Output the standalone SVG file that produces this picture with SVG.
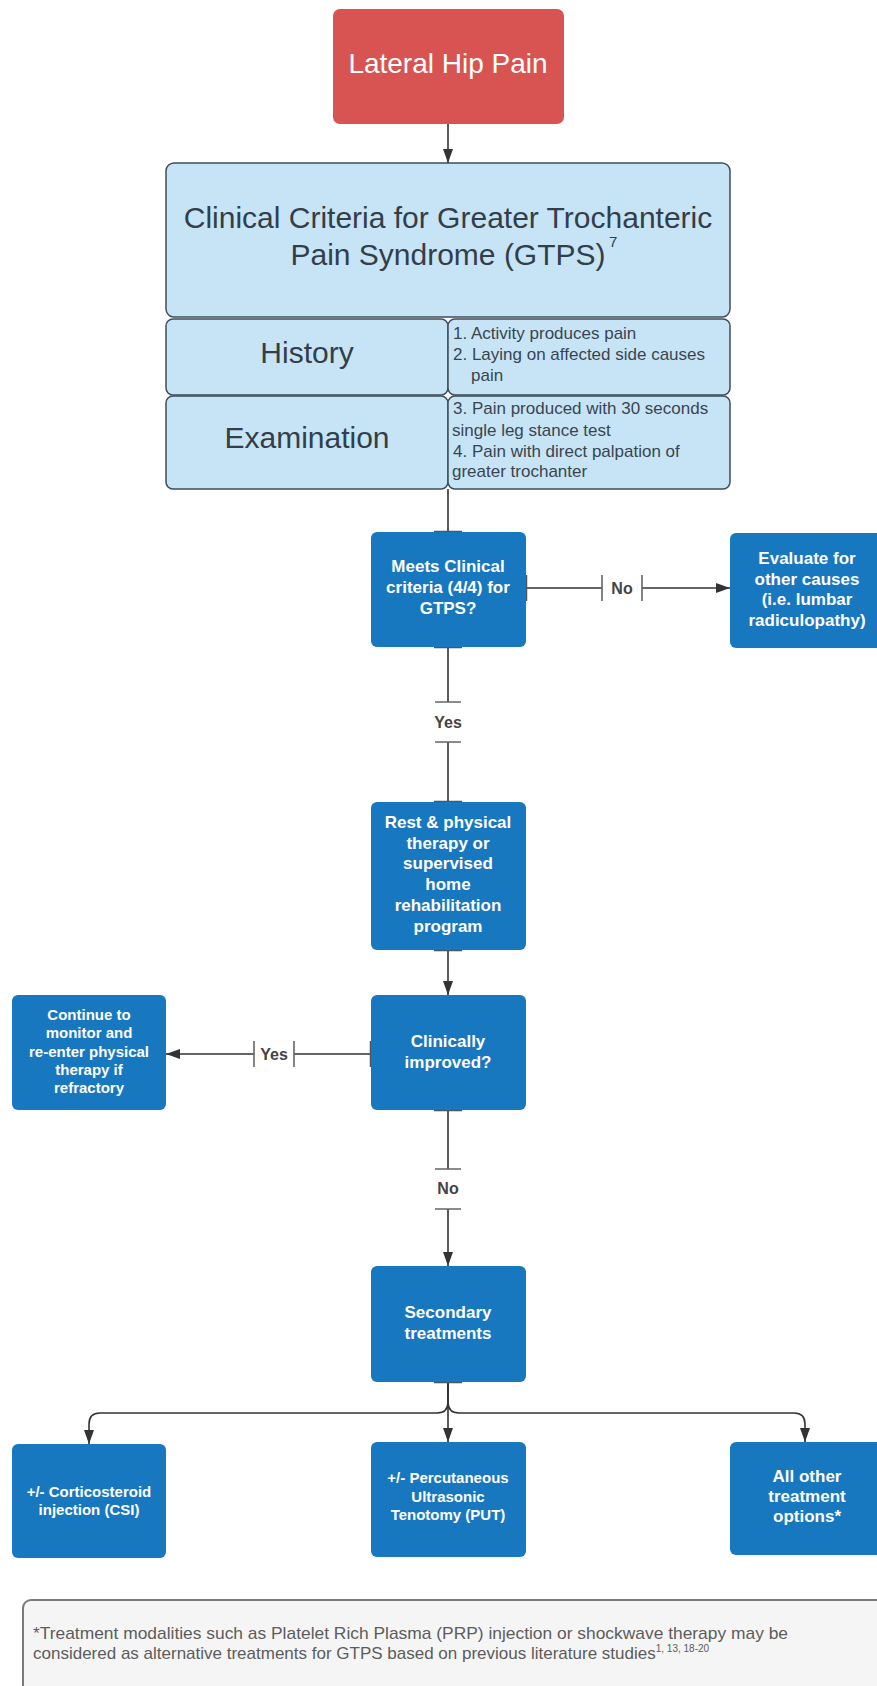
<svg xmlns="http://www.w3.org/2000/svg" width="877" height="1686" viewBox="0 0 877 1686">
<defs>
<marker id="arr" viewBox="0 0 14 10" markerWidth="14" markerHeight="10" refX="14" refY="5" orient="auto" markerUnits="userSpaceOnUse">
<path d="M0,0 L14,5 L0,10 z" fill="#333"/>
</marker>
<style>
.t{font-family:"Liberation Sans",Arial,sans-serif}
.red{fill:#d75452}
.blue{fill:#1777bf}
.lb{fill:#c6e4f6;stroke:#3f4d5a;stroke-width:1.5}
.wt{fill:#ffffff;font-weight:bold;font-size:17px;text-anchor:middle}
.ws{fill:#ffffff;font-weight:bold;font-size:15px;text-anchor:middle}
.dk{fill:#333e48}
.ls{fill:#3a4450;font-size:17px}
.ln{fill:none;stroke:#333;stroke-width:1.6}
.tk{fill:none;stroke:#666;stroke-width:1.6}
.bar{fill:none;stroke:#4a5663;stroke-width:2.5}
.lab{fill:#444;font-weight:bold;font-size:16px;text-anchor:middle}
</style>
</defs>
<rect width="877" height="1686" fill="#ffffff"/>

<g id="connectors">
<path class="ln" d="M448,124 V163" marker-end="url(#arr)"/>
<path class="ln" d="M448,489 V532"/>
<path class="ln" d="M526,588 H602 M642,588 H730" marker-end="url(#arr)"/>
<path class="tk" d="M602,575 V601 M642,575 V601"/>
<text class="t lab" x="622" y="594">No</text>
<path class="ln" d="M448,647 V702 M448,742 V802"/>
<path class="tk" d="M435,702 H461 M435,742 H461"/>
<text class="t lab" x="448" y="728">Yes</text>
<path class="ln" d="M448,950 V995" marker-end="url(#arr)"/>
<path class="ln" d="M371,1054 H294 M254,1054 H166" marker-end="url(#arr)"/>
<path class="tk" d="M254,1041 V1067 M294,1041 V1067"/>
<text class="t lab" x="274" y="1060">Yes</text>
<path class="ln" d="M448,1110 V1169 M448,1209 V1266" marker-end="url(#arr)"/>
<path class="tk" d="M435,1169 H461 M435,1209 H461"/>
<text class="t lab" x="448" y="1194">No</text>
<path class="ln" d="M448,1382 V1402 Q448,1413 437,1413 H100 Q89,1413 89,1424 V1444" marker-end="url(#arr)"/>
<path class="ln" d="M448,1382 V1402 Q448,1413 459,1413 H794 Q805,1413 805,1424 V1442" marker-end="url(#arr)"/>
<path class="ln" d="M448,1382 V1442" marker-end="url(#arr)"/>
<path class="bar" d="M434,532 H462 M526,575 V601 M434,647 H462 M434,802 H462 M434,950 H462 M371,1041 V1067 M434,1110 H462 M434,1382 H462"/>
</g>

<g id="lateral-hip-pain">
<rect class="red" x="333" y="9" width="231" height="115" rx="7"/>
<text class="t" x="448" y="73" fill="#ffffff" font-size="28" text-anchor="middle">Lateral Hip Pain</text>
</g>

<g id="clinical-criteria">
<rect class="lb" x="166" y="163" width="564" height="154" rx="8"/>
<text class="t dk" x="448" y="228" font-size="30" text-anchor="middle">Clinical Criteria for Greater Trochanteric</text>
<text class="t dk" x="448" y="265" font-size="30" text-anchor="middle">Pain Syndrome (GTPS)</text>
<text class="t dk" x="609" y="247" font-size="15">7</text>
</g>

<g id="history">
<rect class="lb" x="166" y="319" width="282" height="76" rx="7"/>
<text class="t dk" x="307" y="363" font-size="30" text-anchor="middle">History</text>
</g>

<g id="history-criteria">
<rect class="lb" x="448" y="319" width="282" height="76" rx="7"/>
<text class="t ls" x="453" y="339">1. Activity produces pain</text>
<text class="t ls" x="453" y="360">2. Laying on affected side causes</text>
<text class="t ls" x="471" y="381">pain</text>
</g>

<g id="examination">
<rect class="lb" x="166" y="396" width="282" height="93" rx="7"/>
<text class="t dk" x="307" y="448" font-size="30" text-anchor="middle">Examination</text>
</g>

<g id="examination-criteria">
<rect class="lb" x="448" y="396" width="282" height="93" rx="7"/>
<text class="t ls" x="453" y="414">3. Pain produced with 30 seconds</text>
<text class="t ls" x="452" y="436">single leg stance test</text>
<text class="t ls" x="453" y="457">4. Pain with direct palpation of</text>
<text class="t ls" x="452" y="477">greater trochanter</text>
</g>

<g id="meets-criteria">
<rect class="blue" x="371" y="532" width="155" height="115" rx="6"/>
<text class="t wt" x="448" y="572">Meets Clinical</text>
<text class="t wt" x="448" y="593">criteria (4/4) for</text>
<text class="t wt" x="448" y="614">GTPS?</text>
</g>

<g id="evaluate-other">
<rect class="blue" x="730" y="533" width="156" height="115" rx="6"/>
<text class="t wt" x="807" y="564">Evaluate for</text>
<text class="t wt" x="807" y="585">other causes</text>
<text class="t wt" x="807" y="605">(i.e. lumbar</text>
<text class="t wt" x="807" y="626">radiculopathy)</text>
</g>

<g id="rest-pt">
<rect class="blue" x="371" y="802" width="155" height="148" rx="6"/>
<text class="t wt" x="448" y="828">Rest &amp; physical</text>
<text class="t wt" x="448" y="849">therapy or</text>
<text class="t wt" x="448" y="869">supervised</text>
<text class="t wt" x="448" y="890">home</text>
<text class="t wt" x="448" y="911">rehabilitation</text>
<text class="t wt" x="448" y="932">program</text>
</g>

<g id="clinically-improved">
<rect class="blue" x="371" y="995" width="155" height="115" rx="6"/>
<text class="t wt" x="448" y="1047">Clinically</text>
<text class="t wt" x="448" y="1068">improved?</text>
</g>

<g id="continue-monitor">
<rect class="blue" x="12" y="995" width="154" height="115" rx="6"/>
<text class="t ws" x="89" y="1020">Continue to</text>
<text class="t ws" x="89" y="1038">monitor and</text>
<text class="t ws" x="89" y="1057">re-enter physical</text>
<text class="t ws" x="89" y="1075">therapy if</text>
<text class="t ws" x="89" y="1093">refractory</text>
</g>

<g id="secondary-treatments">
<rect class="blue" x="371" y="1266" width="155" height="116" rx="6"/>
<text class="t wt" x="448" y="1318">Secondary</text>
<text class="t wt" x="448" y="1339">treatments</text>
</g>

<g id="csi">
<rect class="blue" x="12" y="1444" width="154" height="114" rx="6"/>
<text class="t ws" x="89" y="1497">+/- Corticosteroid</text>
<text class="t ws" x="89" y="1515">injection (CSI)</text>
</g>

<g id="put">
<rect class="blue" x="371" y="1442" width="155" height="115" rx="6"/>
<text class="t ws" x="448" y="1483">+/- Percutaneous</text>
<text class="t ws" x="448" y="1502">Ultrasonic</text>
<text class="t ws" x="448" y="1520">Tenotomy (PUT)</text>
</g>

<g id="all-other">
<rect class="blue" x="730" y="1442" width="156" height="113" rx="6"/>
<text class="t wt" x="807" y="1482">All other</text>
<text class="t wt" x="807" y="1502">treatment</text>
<text class="t wt" x="807" y="1522">options*</text>
</g>

<g id="footnote">
<rect x="23" y="1600" width="870" height="110" rx="8" fill="#f5f5f5" stroke="#7a7a7a" stroke-width="2"/>
<text class="t" x="33" y="1639" font-size="17" fill="#5c5c5c" textLength="755" lengthAdjust="spacingAndGlyphs">*Treatment modalities such as Platelet Rich Plasma (PRP) injection or shockwave therapy may be</text>
<text class="t" x="33" y="1659" font-size="17" fill="#5c5c5c">considered as alternative treatments for GTPS based on previous literature studies<tspan font-size="10" dy="-7">1, 13, 18-20</tspan></text>
</g>
</svg>
